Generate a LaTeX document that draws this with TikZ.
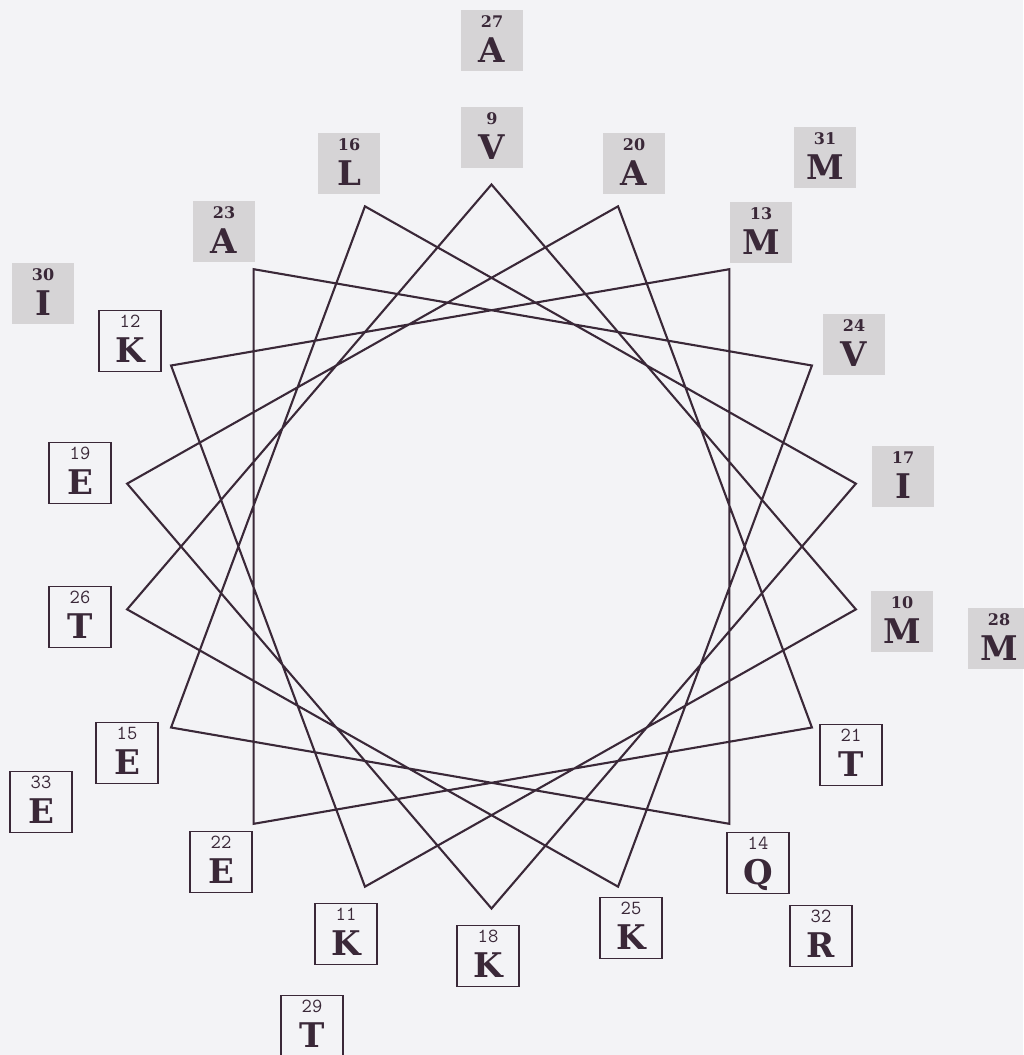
\documentclass[tikz,border=0pt]{standalone}
\usepackage{fontspec}
\usetikzlibrary{calc}
\newfontfamily\resfont{DejaVu Serif}
\definecolor{ink}{RGB}{58,40,56}
\definecolor{paper}{RGB}{243,243,246}
\definecolor{shade}{RGB}{214,212,214}
\tikzset{
  hphob/.style={fill=shade, minimum width=62pt, minimum height=61pt, inner sep=0pt},
  hphil/.style={draw=ink, line width=1.2pt, fill=paper, minimum width=62pt, minimum height=61pt, inner sep=0pt},
  numb/.style={anchor=base, inner sep=0pt, text=ink, font=\resfont\bfseries\fontsize{16}{16}\selectfont},
  numw/.style={anchor=base, inner sep=0pt, text=ink, font=\ttfamily\fontsize{20}{20}\selectfont},
  letter/.style={anchor=base, inner sep=0pt, text=ink, font=\resfont\bfseries\fontsize{34}{34}\selectfont},
  wheel/.style={draw=ink, line width=2.1pt, line join=miter}
}
\newcommand\hres[4]{%
  \node[hphob] (r#1) at (#2,#3) {};
  \node[numb] (n#1) at ($(r#1)+(0,-13)$) {#1};
  \node[letter] (l#1) at ($(r#1)+(0,22)$) {#4};}
\newcommand\wres[4]{%
  \node[hphil] (r#1) at (#2,#3) {};
  \node[numw] (n#1) at ($(r#1)+(0,-13.5)$) {#1};
  \node[letter] (l#1) at ($(r#1)+(0,21.5)$) {#4};}
\begin{document}
\begin{tikzpicture}[x=1pt,y=-1pt]
\fill[paper] (0,0) rectangle (1023,1055);
\useasboundingbox (0,0) rectangle (1023,1055);
% wheel vertices
\foreach \i in {9,...,26} {
  \coordinate (v\i) at ({491.5+370*cos(90-100*(\i-9))},{546.5-362*sin(90-100*(\i-9))});
}
\draw[wheel] (v9) -- (v10) -- (v11) -- (v12) -- (v13) -- (v14) -- (v15) -- (v16) -- (v17)
  -- (v18) -- (v19) -- (v20) -- (v21) -- (v22) -- (v23) -- (v24) -- (v25) -- (v26) -- cycle;
% hydrophobic residues
\hres{27}{492}{40}{A}
\hres{9}{492}{137}{V}
\hres{16}{349}{163}{L}
\hres{20}{634}{163}{A}
\hres{31}{825}{157}{M}
\hres{23}{224}{231}{A}
\hres{13}{761}{232}{M}
\hres{30}{43}{293}{I}
\hres{24}{854}{344}{V}
\hres{17}{903}{476}{I}
\hres{10}{902}{621}{M}
\hres{28}{999}{638}{M}
% hydrophilic residues
\wres{12}{130}{341}{K}
\wres{19}{80}{473}{E}
\wres{26}{80}{617}{T}
\wres{15}{127}{753}{E}
\wres{21}{851}{755}{T}
\wres{33}{41}{802}{E}
\wres{22}{221}{862}{E}
\wres{14}{758}{863}{Q}
\wres{11}{346}{934}{K}
\wres{25}{631}{928}{K}
\wres{18}{488}{956}{K}
\wres{32}{821}{936}{R}
\wres{29}{312}{1026}{T}
\end{tikzpicture}
\end{document}
